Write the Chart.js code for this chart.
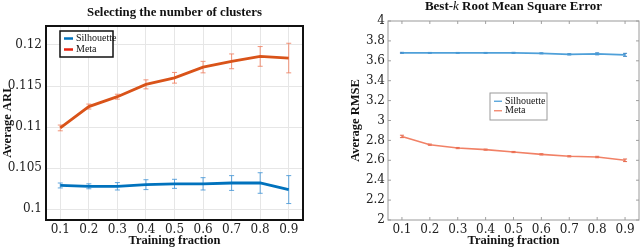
<!DOCTYPE html>
<html>
<head>
<meta charset="utf-8">
<script src="https://cdn.jsdelivr.net/npm/chart.js@4.4.0/dist/chart.umd.min.js"></script>
<style>
  html, body { margin: 0; padding: 0; background: #fff; }
  .box { position: absolute; top: 0; height: 250px; }
</style>
</head>
<body>
<div class="box" style="left:0;width:318px"><canvas id="ari"></canvas></div>
<div class="box" style="left:322px;width:318px"><canvas id="rmse"></canvas></div>
<script>
const fractions = ['0.1', '0.2', '0.3', '0.4', '0.5', '0.6', '0.7', '0.8', '0.9'];

// left: average ARI
const ariSilhouette = [0.1029, 0.1028, 0.1028, 0.1030, 0.1031, 0.1031, 0.1032, 0.1032, 0.1024];
const ariSilhouetteErr = [0.0003, 0.0003, 0.00045, 0.0006, 0.00055, 0.00075, 0.0009, 0.00125, 0.0017];
const ariMeta = [0.1099, 0.1125, 0.1137, 0.1152, 0.1160, 0.1173, 0.1180, 0.1186, 0.1184];
const ariMetaErr = [0.00035, 0.0003, 0.0003, 0.00055, 0.00065, 0.0007, 0.0009, 0.0012, 0.0018];
const ariTicks = [0.1, 0.105, 0.11, 0.115, 0.12];

// right: average RMSE
const rmseSilhouette = [3.68, 3.68, 3.68, 3.68, 3.68, 3.675, 3.665, 3.67, 3.66];
const rmseSilhouetteErr = [0.005, 0.004, 0.004, 0.004, 0.005, 0.005, 0.006, 0.01, 0.015];
const rmseMeta = [2.84, 2.757, 2.723, 2.707, 2.683, 2.66, 2.64, 2.633, 2.60];
const rmseMetaErr = [0.012, 0.006, 0.006, 0.005, 0.006, 0.006, 0.006, 0.007, 0.013];

const SERIF = "'Liberation Serif', 'DejaVu Serif', serif";
const TICKFONT = { family: "'DejaVu Serif', serif", size: 12 };
const fmt = (v) => String(Number(v.toFixed(3)));

// vertical error bars from dataset.errors, drawn under the lines
const errorBars = {
  id: 'errorBars',
  beforeDatasetsDraw(chart, args, opts) {
    const { ctx, scales: { x, y } } = chart;
    ctx.save();
    chart.data.datasets.forEach((ds) => {
      if (!ds.errors) return;
      ctx.strokeStyle = ds.errorColor;
      ctx.lineWidth = opts.width || 1;
      ds.data.forEach((v, i) => {
        const px = x.getPixelForValue(i);
        const top = y.getPixelForValue(v + ds.errors[i]);
        const bot = y.getPixelForValue(v - ds.errors[i]);
        const c = opts.cap || 2.5;
        ctx.beginPath();
        ctx.moveTo(px, top); ctx.lineTo(px, bot);
        ctx.moveTo(px - c, top); ctx.lineTo(px + c, top);
        ctx.moveTo(px - c, bot); ctx.lineTo(px + c, bot);
        ctx.stroke();
      });
    });
    ctx.restore();
  },
};

// box around the plot area, optional inward tick marks
const frame = {
  id: 'frame',
  afterDraw(chart, args, opts) {
    const { ctx, chartArea: a, scales: { x, y } } = chart;
    ctx.save();
    if (opts.ticks) {
      ctx.strokeStyle = opts.tickColor;
      ctx.lineWidth = 0.8;
      ctx.beginPath();
      x.ticks.forEach((t, i) => {
        const px = x.getPixelForTick(i);
        ctx.moveTo(px, a.bottom); ctx.lineTo(px, a.bottom - 3);
        ctx.moveTo(px, a.top); ctx.lineTo(px, a.top + 3);
      });
      y.ticks.forEach((t, i) => {
        const py = y.getPixelForTick(i);
        ctx.moveTo(a.left, py); ctx.lineTo(a.left + 3, py);
        ctx.moveTo(a.right, py); ctx.lineTo(a.right - 3, py);
      });
      ctx.stroke();
    }
    ctx.strokeStyle = opts.color;
    ctx.lineWidth = opts.width;
    ctx.strokeRect(a.left, a.top, a.right - a.left, a.bottom - a.top);
    ctx.restore();
  },
};

// chart title centred over the plot area; parts may be italic
const areaTitle = {
  id: 'areaTitle',
  afterDraw(chart, args, opts) {
    const { ctx, chartArea: a } = chart;
    ctx.save();
    ctx.textBaseline = 'middle';
    ctx.fillStyle = '#111';
    const fonts = opts.parts.map((p) => (p.italic ? 'italic ' : 'bold ') + opts.size + 'px ' + SERIF);
    let total = 0;
    opts.parts.forEach((p, i) => { ctx.font = fonts[i]; total += ctx.measureText(p.text).width; });
    let x = (a.left + a.right) / 2 - total / 2;
    opts.parts.forEach((p, i) => {
      ctx.font = fonts[i];
      ctx.fillText(p.text, x, opts.y);
      x += ctx.measureText(p.text).width;
    });
    ctx.restore();
  },
};

// legend box placed inside the plot area
const boxLegend = {
  id: 'boxLegend',
  afterDraw(chart, args, opts) {
    const { ctx, chartArea: a } = chart;
    const x0 = a.left + opts.x, y0 = a.top + opts.y;
    ctx.save();
    ctx.fillStyle = '#fff';
    ctx.fillRect(x0, y0, opts.w, opts.h);
    ctx.strokeStyle = opts.border;
    ctx.lineWidth = opts.borderWidth;
    ctx.strokeRect(x0, y0, opts.w, opts.h);
    ctx.font = opts.font;
    ctx.textBaseline = 'middle';
    chart.data.datasets.forEach((ds, i) => {
      const cy = y0 + opts.pad + opts.row * (i + 0.5);
      ctx.strokeStyle = opts.colors[i];
      ctx.lineWidth = opts.lineWidth;
      ctx.beginPath();
      ctx.moveTo(x0 + 4, cy); ctx.lineTo(x0 + 4 + opts.seg, cy);
      ctx.stroke();
      ctx.fillStyle = '#111';
      ctx.fillText(ds.label, x0 + 7 + opts.seg, cy);
    });
    ctx.restore();
  },
};

Chart.defaults.font.family = SERIF;
Chart.defaults.color = '#111';
Chart.defaults.animation = false;

new Chart(document.getElementById('ari'), {
  type: 'line',
  data: {
    labels: fractions,
    datasets: [
      { label: 'Silhouette', data: ariSilhouette, errors: ariSilhouetteErr,
        borderColor: '#0072BD', errorColor: 'rgba(70,150,215,0.85)',
        borderWidth: 2.8, pointRadius: 0, tension: 0 },
      { label: 'Meta', data: ariMeta, errors: ariMetaErr,
        borderColor: '#D95319', errorColor: 'rgba(240,130,100,0.85)',
        borderWidth: 2.8, pointRadius: 0, tension: 0 },
    ],
  },
  options: {
    responsive: true,
    maintainAspectRatio: false,
    layout: { padding: { left: 0, right: 15, top: 26, bottom: 0 } },
    scales: {
      x: {
        type: 'category',
        offset: true,
        grid: { offset: false, color: '#e6e6e6', drawTicks: false },
        border: { display: false },
        ticks: { font: TICKFONT, color: '#222', padding: 3 },
        title: { display: true, text: 'Training fraction', font: { size: 12.5, weight: 'bold' }, padding: { top: 0, bottom: 1.5 } },
        afterFit: (s) => { s.height = 30; },
      },
      y: {
        min: 0.0987,
        max: 0.1223,
        grid: { color: '#e6e6e6', drawTicks: false },
        border: { display: false },
        afterBuildTicks: (s) => { s.ticks = ariTicks.map((v) => ({ value: v })); },
        ticks: { font: TICKFONT, color: '#222', padding: 4, callback: fmt },
        title: { display: true, text: 'Average ARI', font: { size: 12.5, weight: 'bold' }, padding: 0 },
        afterFit: (s) => { s.width = 46; },
      },
    },
    plugins: {
      legend: { display: false },
      tooltip: { enabled: false },
      title: { display: false },
      areaTitle: { y: 13, size: 12.8, parts: [{ text: 'Selecting the number of clusters' }] },
      errorBars: { width: 1, cap: 2.5 },
      frame: { color: '#111', width: 2 },
      boxLegend: { x: 14, y: 5, w: 53, h: 26, pad: 2, row: 11, seg: 9,
        border: '#111', borderWidth: 1.5, lineWidth: 2.5, colors: ['#0072BD', '#E8210E'],
        font: "10px " + SERIF },
    },
  },
  plugins: [errorBars, frame, boxLegend, areaTitle],
});

new Chart(document.getElementById('rmse'), {
  type: 'line',
  data: {
    labels: fractions,
    datasets: [
      { label: 'Silhouette', data: rmseSilhouette, errors: rmseSilhouetteErr,
        borderColor: 'rgba(70,155,215,0.95)', errorColor: 'rgba(40,120,190,0.9)',
        borderWidth: 1.6, pointRadius: 0, tension: 0 },
      { label: 'Meta', data: rmseMeta, errors: rmseMetaErr,
        borderColor: 'rgba(240,115,85,0.9)', errorColor: 'rgba(225,90,60,0.9)',
        borderWidth: 1.6, pointRadius: 0, tension: 0 },
    ],
  },
  options: {
    responsive: true,
    maintainAspectRatio: false,
    layout: { padding: { left: 26, right: 1, top: 21, bottom: 0 } },
    scales: {
      x: {
        type: 'category',
        offset: true,
        grid: { drawOnChartArea: false, drawTicks: false },
        border: { display: false },
        ticks: { font: TICKFONT, color: '#222', padding: 3 },
        title: { display: true, text: 'Training fraction', font: { size: 12.5, weight: 'bold' }, padding: { top: 0, bottom: 1.5 } },
        afterFit: (s) => { s.height = 30; },
      },
      y: {
        min: 2,
        max: 4,
        grid: { drawOnChartArea: false, drawTicks: false },
        border: { display: false },
        ticks: { stepSize: 0.2, font: TICKFONT, color: '#222', padding: 3, callback: fmt },
        title: { display: true, text: 'Average RMSE', font: { size: 12.5, weight: 'bold' }, padding: 0 },
        afterFit: (s) => { s.width = 40; },
      },
    },
    plugins: {
      legend: { display: false },
      tooltip: { enabled: false },
      title: { display: false },
      areaTitle: { y: 7, size: 13, parts: [{ text: 'Best-' }, { text: 'k', italic: true }, { text: ' Root Mean Square Error' }] },
      errorBars: { width: 1, cap: 2 },
      frame: { color: '#9a9a9a', width: 1, ticks: true, tickColor: '#888' },
      boxLegend: { x: 102, y: 72, w: 57, h: 27, pad: 3.5, row: 9.5, seg: 8,
        border: '#9a9a9a', borderWidth: 1, lineWidth: 1.3,
        colors: ['rgba(70,155,215,0.95)', 'rgba(240,115,85,0.9)'],
        font: "10px " + SERIF },
    },
  },
  plugins: [errorBars, frame, boxLegend, areaTitle],
});
</script>
</body>
</html>
